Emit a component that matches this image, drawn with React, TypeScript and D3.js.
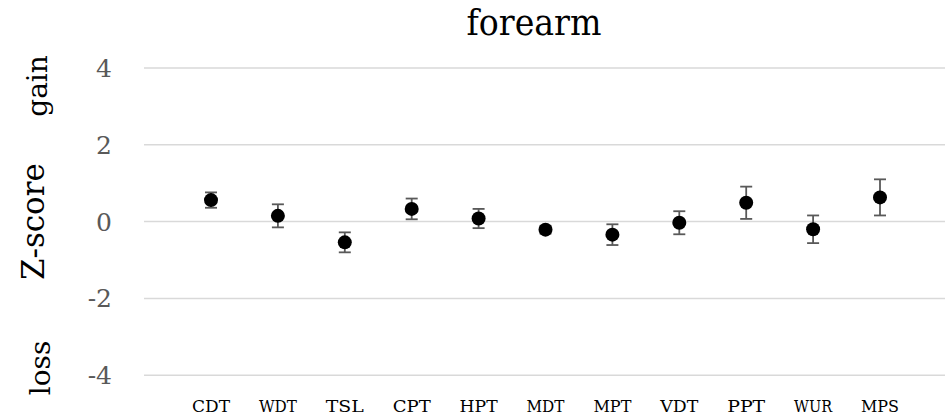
import React from "react";
import * as d3 from "d3";

const categories = ["CDT", "WDT", "TSL", "CPT", "HPT", "MDT", "MPT", "VDT", "PPT", "WUR", "MPS"];
const means = [0.56, 0.15, -0.54, 0.33, 0.08, -0.21, -0.34, -0.03, 0.49, -0.2, 0.63];
const errors = [0.2, 0.3, 0.26, 0.27, 0.25, 0.1, 0.27, 0.3, 0.42, 0.36, 0.47];
const yTicks = [-4, -2, 0, 2, 4];

const W = 947;
const H = 420;
const FONT = "'DejaVu Serif', serif";

export default function App() {
  const x = d3.scalePoint<string>().domain(categories).range([211, 880]);
  const y = d3.scaleLinear().domain([-4, 4]).range([375.3, 67.9]);
  const gridX0 = 144;
  const gridX1 = 945;

  return (
    <svg
      width={W}
      height={H}
      style={{ position: "absolute", left: 0, top: 0, background: "#fff" }}
      fontFamily={FONT}
    >
      <rect x={0} y={0} width={W} height={H} fill="#fff" />
      {yTicks.map((t) => (
        <g key={t}>
          <line x1={gridX0} x2={gridX1} y1={y(t)} y2={y(t)} stroke="#d9d9d9" strokeWidth={1.5} />
          <text
            x={112}
            y={y(t)}
            dy="0.36em"
            textAnchor="end"
            fontSize={25}
            fill="#595959"
          >
            {t}
          </text>
        </g>
      ))}
      {categories.map((c, i) => {
        const cx = x(c) as number;
        const top = y(means[i] + errors[i]);
        const bot = y(means[i] - errors[i]);
        return (
          <g key={c}>
            <line x1={cx} x2={cx} y1={top} y2={bot} stroke="#595959" strokeWidth={1.8} />
            <line x1={cx - 6} x2={cx + 6} y1={top} y2={top} stroke="#595959" strokeWidth={1.8} />
            <line x1={cx - 6} x2={cx + 6} y1={bot} y2={bot} stroke="#595959" strokeWidth={1.8} />
            <circle cx={cx} cy={y(means[i])} r={7} fill="#000" />
            <text x={cx} y={412} textAnchor="middle" fontSize={16} fill="#000" textLength={38} lengthAdjust="spacingAndGlyphs">
              {c}
            </text>
          </g>
        );
      })}
      <text x={534} y={35} textAnchor="middle" fontSize={35} fill="#000" textLength={135} lengthAdjust="spacingAndGlyphs">
        forearm
      </text>
      <text
        transform={`translate(44, ${y(0)}) rotate(-90)`}
        textAnchor="middle"
        fontSize={32}
        fill="#000"
        textLength={117}
        lengthAdjust="spacingAndGlyphs"
      >
        Z-score
      </text>
      <text
        transform={`translate(47, 86) rotate(-90)`}
        textAnchor="middle"
        fontSize={28}
        fill="#000"
      >
        gain
      </text>
      <text
        transform={`translate(50, 368) rotate(-90)`}
        textAnchor="middle"
        fontSize={28}
        fill="#000"
      >
        loss
      </text>
    </svg>
  );
}
